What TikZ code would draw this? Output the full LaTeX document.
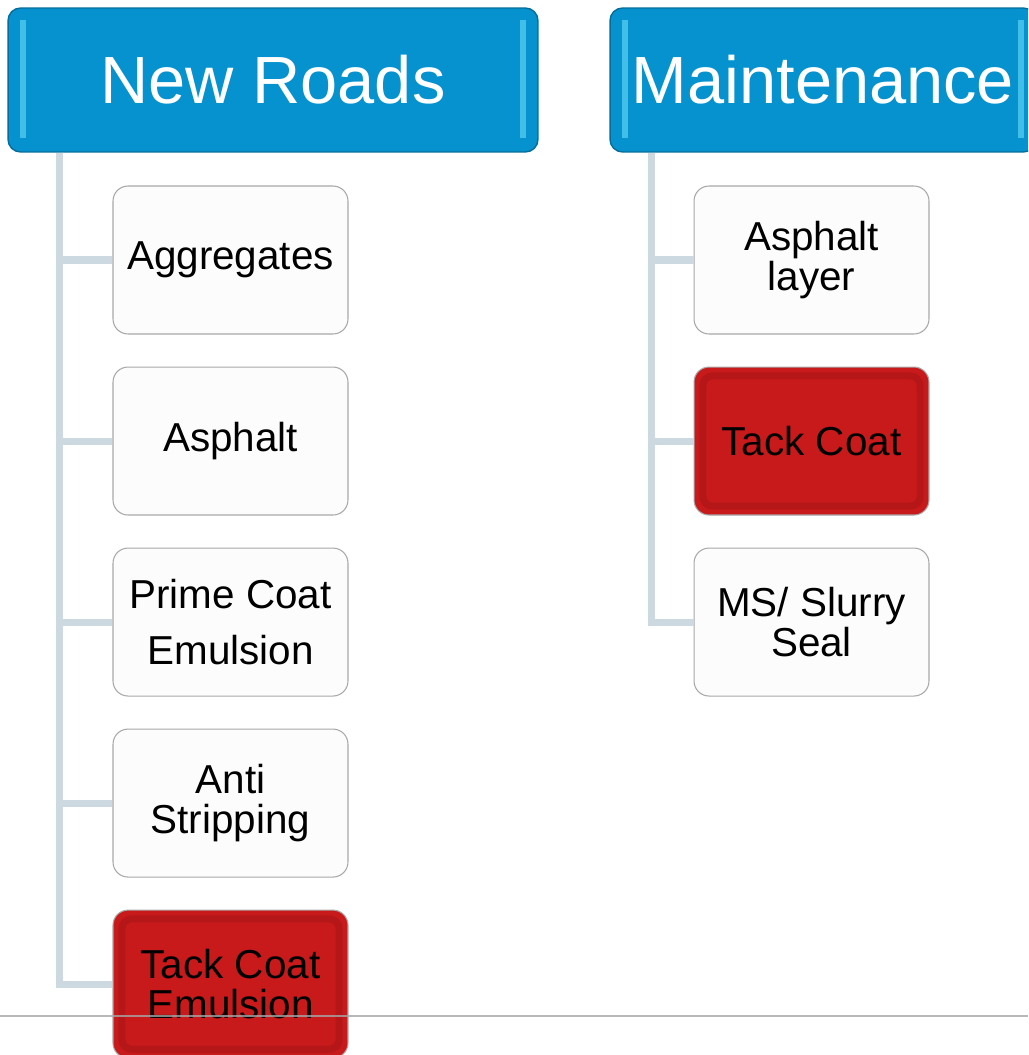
\documentclass[tikz,border=0pt]{standalone}
\usepackage{fontspec}
\setmainfont{Liberation Sans}
\usetikzlibrary{positioning}
\definecolor{headblue}{RGB}{5,146,206}
\definecolor{headlight}{RGB}{92,211,245}
\definecolor{tackred}{RGB}{200,25,27}
\definecolor{branchgray}{RGB}{204,217,225}
\definecolor{itemedge}{RGB}{168,168,168}
\tikzstyle{heading}=[draw=headblue!75!black, fill=headblue, line width=0.8pt, rounded corners=0.25cm, minimum width=10.6cm, minimum height=2.88cm, text=white, font=\fontsize{38}{44}\selectfont,
  path picture={
    \fill[headlight, sharp corners, opacity=0.7] ([xshift=7pt,yshift=-7pt]path picture bounding box.north west) rectangle ([xshift=10pt,yshift=8pt]path picture bounding box.south west);
    \fill[headlight, sharp corners, opacity=0.7] ([xshift=-7pt,yshift=-7pt]path picture bounding box.north east) rectangle ([xshift=-10pt,yshift=8pt]path picture bounding box.south east);}]
\tikzstyle{item}=[draw=itemedge, fill=white!98!gray, semithick, rounded corners=0.3cm, minimum width=4.7cm, minimum height=2.96cm, align=center, font=\fontsize{23}{23}\selectfont]
\tikzstyle{hot item}=[item, fill=tackred,
  path picture={
    \draw[tackred!70!black, line width=4pt, rounded corners=0.2cm, opacity=0.3] ([xshift=5pt,yshift=-5pt]path picture bounding box.north west) rectangle ([xshift=-5pt,yshift=5pt]path picture bounding box.south east);}]
\tikzstyle{branch}=[draw=branchgray, line width=4pt]
\tikzstyle{rule}=[draw=gray!70, line width=1pt, opacity=0.8]

\begin{document}
\begin{tikzpicture}[x=0.02cm, y=-0.02cm]
  \path[use as bounding box, clip] (0,0) rectangle (1028,1055);

  % headings
  \node[heading] (roads) at (273,80) {New Roads};
  \node[heading, minimum width=8.52cm] (maint) at (823,80) {Maintenance};

  % new roads column
  \node[item] (aggregates) at (230.5,260) {Aggregates};
  \node[item, below=0.64cm of aggregates] (asphalt) {Asphalt};
  \node[item, below=0.64cm of asphalt] (prime) {Prime Coat\\[9pt]Emulsion};
  \node[item, below=0.64cm of prime] (anti) {Anti\\Stripping};
  \node[hot item, below=0.64cm of anti] (tack_emul) {Tack Coat\\Emulsion};

  % maintenance column
  \node[item] (layer) at (811.5,260) {Asphalt\\layer};
  \node[hot item, below=0.64cm of layer] (tack) {Tack Coat};
  \node[item, below=0.64cm of tack] (slurry) {MS/ Slurry\\Seal};

  \coordinate (roads_trunk) at ([xshift=1.04cm]roads.south west);
  \coordinate (maint_trunk) at ([xshift=0.84cm]maint.south west);

  \foreach \child in {aggregates, asphalt, prime, anti, tack_emul}
    \draw[branch] (roads_trunk) |- (\child.west);
  \foreach \child in {layer, tack, slurry}
    \draw[branch] (maint_trunk) |- (\child.west);

  \draw[rule] (0,1016) -- (1028,1016);
\end{tikzpicture}
\end{document}
